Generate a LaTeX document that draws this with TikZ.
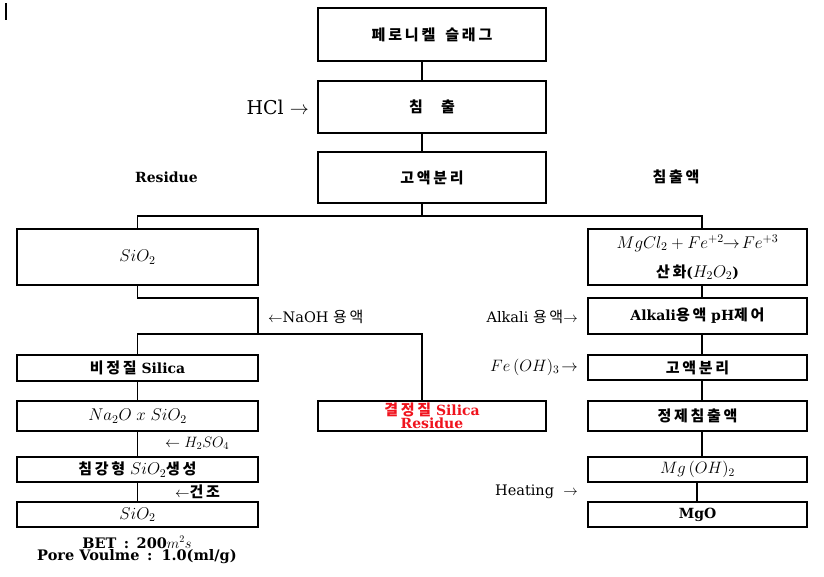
\documentclass[tikz,border=0pt]{standalone}
\usepackage{fix-cm}
\usepackage[no-math]{fontspec}
\setmainfont{DejaVu Serif}
\newfontfamily\kr{Noto Sans CJK KR}[LetterSpace=18]
\newcommand\K[1]{{\kr\bfseries\fontsize{15}{15}\selectfont #1}}
\newcommand\Kn[1]{{\kr\fontsize{15}{15}\selectfont #1}}
\newcommand\M[1]{{\fontsize{17}{17}\selectfont$#1$}}
\definecolor{resred}{RGB}{240,20,30}
\begin{document}
\begin{tikzpicture}[x=1pt,y=-1pt,
  bx/.style={draw,line width=1.5pt,inner sep=0pt,align=center,font=\fontsize{14}{15}\selectfont\bfseries},
  colL/.style={bx,minimum width=241pt},
  colM/.style={bx,minimum width=228pt},
  colR/.style={bx,minimum width=219pt},
  lab/.style={inner sep=0pt,font=\fontsize{14.5}{16}\selectfont},
  blab/.style={inner sep=0pt,align=center,font=\fontsize{14}{15}\selectfont\bfseries},
  link/.style={line width=1.5pt}]
\useasboundingbox (0,0) rectangle (824,576);
% stray cursor mark
\draw[line width=2pt] (6,3) -- (6,20);
% key x positions
\coordinate (ctr) at (422,0);
\coordinate (trunk) at (702,0);
\coordinate (split) at (422,216);
\coordinate (j1) at (258,298);
\coordinate (j2) at (258,334);
% top column
\node[colM,minimum height=53pt] (b1) at (432,34.5) {\K{페\kern2.8pt 로\kern2.8pt 니\kern2.8pt 켈\hspace{10pt}슬\kern2.8pt 래\kern2.8pt 그}};
\node[colM,minimum height=52pt] (b2) at (432,107) {\K{침\hspace{18pt}출}};
\node[colM,minimum height=51pt] (b3) at (432,177.5) {\K{고액분리}};
% left column
\node[colL,minimum height=56pt] (s1) at (137.5,257) {\M{SiO_2}};
\node[colL,minimum height=26pt] (a1) at (137.5,368) {\K{비정질} Silica};
\node[colL,minimum height=30pt] (a2) at (137.5,416) {\M{Na_2O\;x\;SiO_2}};
\node[colL,minimum height=25pt] (a3) at (137.5,469.5) {\K{침강형} \M{SiO_2}\K{생성}};
\node[colL,minimum height=25pt] (a4) at (137.5,514.5) {\M{SiO_2}};
% middle residue
\node[colM,minimum height=30pt,text=resred,font=\fontsize{14}{12}\selectfont\bfseries] (c1) at (432,416) {\K{결정질} Silica\\Residue};
% right column
\node[colR,minimum height=56pt] (m1) at (697.5,257) {\M{MgCl_2+Fe^{+2}\!\!\rightarrow\! Fe^{+3}}\\[12pt]\K{산화}(\M{H_2O_2})};
\node[colR,minimum height=36pt] (m2) at (697.5,316) {Alkali\K{용액} pH\K{제어}};
\node[colR,minimum height=25pt] (m3) at (697.5,367.5) {\K{고액분리}};
\node[colR,minimum height=30pt] (m4) at (697.5,416) {\K{정제침출액}};
\node[colR,minimum height=25pt] (m5) at (697.5,469.5) {{\fontsize{16.5}{17}\selectfont$Mg\,(OH)_2$}};
\node[colR,minimum height=25pt] (m6) at (697.5,514.5) {MgO};
% side labels
\node[lab,anchor=east,font=\fontsize{19}{20}\selectfont] (hcl) at (309,107) {HCl $\rightarrow$};
\node[blab] (res) at (166.5,177) {Residue};
\node[blab] (lch) at (676,177) {\K{침출액}};
\node[lab,anchor=west] (naoh) at (268,317) {$\leftarrow$NaOH \Kn{용액}};
\node[lab,anchor=east] (alk) at (578,317) {Alkali \Kn{용액}$\rightarrow$};
\node[lab,anchor=east] (feoh) at (578,367) {{\fontsize{16.5}{17}\selectfont$Fe\,(OH)_3\!\rightarrow$}};
\node[lab,anchor=west] (h2so4) at (165,443) {{\fontsize{15}{16}\selectfont$\leftarrow H_2SO_4$}};
\node[lab,anchor=west,font=\fontsize{14.5}{16}\selectfont\bfseries] (dry) at (175,492) {$\leftarrow$\K{건조}};
\node[lab,anchor=east] (heat) at (578,492) {Heating \ $\rightarrow$};
\node[blab,font=\fontsize{14.5}{12.5}\selectfont\bfseries] (bet) at (137,550) {BET \,:\, 200$m^2s$\\Pore Voulme \,:\, 1.0(ml/g)};
% connectors: top
\draw[link] (b1.south -| ctr) -- (b2.north -| ctr);
\draw[link] (b2.south -| ctr) -- (b3.north -| ctr);
\draw[link] (b3.south -| ctr) -- (split);
\draw[link] (s1.north) |- (split) -| (m1.north -| trunk);
% left branch
\draw[link] (s1.south) |- (j1) -- (j2);
\draw[link] (a1.north) -- (a1.north |- j2) -| (c1.north -| ctr);
\draw[link] (a1.south) -- (a2.north);
\draw[link] (a2.south) -- (a3.north);
\draw[link] (a3.south) -- (a4.north);
% right branch
\draw[link] (m1.south -| trunk) -- (m2.north -| trunk);
\draw[link] (m2.south -| trunk) -- (m3.north -| trunk);
\draw[link] (m3.south -| trunk) -- (m4.north -| trunk);
\draw[link] (m4.south -| trunk) -- (m5.north -| trunk);
\draw[link] ([xshift=-0.5pt]m5.south) -- ([xshift=-0.5pt]m6.north);
\end{tikzpicture}
\end{document}
